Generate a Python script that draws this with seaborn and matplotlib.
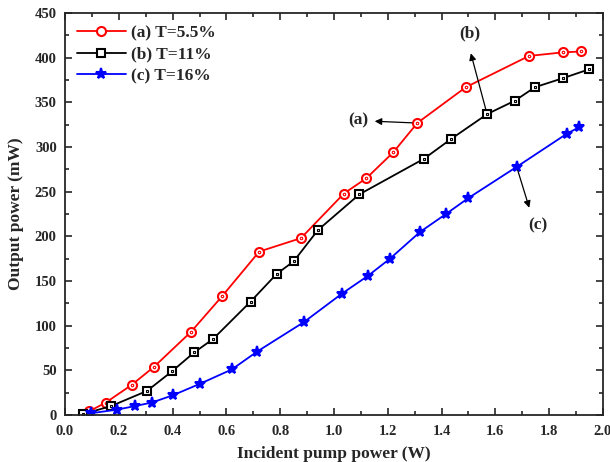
import matplotlib
matplotlib.use("Agg")
import matplotlib.pyplot as plt
import seaborn as sns
import pandas as pd
from matplotlib.ticker import MultipleLocator

red_x = [0.089, 0.152, 0.249, 0.331, 0.468, 0.584, 0.722, 0.877, 1.037, 1.12, 1.22, 1.31, 1.49, 1.725, 1.85, 1.92]
red_y = [4, 14, 34, 54, 93, 133, 183, 198, 248, 265, 294, 327, 367, 402, 406, 407]

black_x = [0.067, 0.171, 0.305, 0.398, 0.48, 0.55, 0.69, 0.787, 0.85, 0.94, 1.094, 1.335, 1.435, 1.57, 1.673, 1.747, 1.85, 1.948]
black_y = [1, 10, 27, 49, 70, 85, 127, 158, 172, 207, 247, 287, 309, 337, 352, 367, 377, 387]

blue_x = [0.097, 0.193, 0.26, 0.323, 0.40, 0.502, 0.62, 0.714, 0.888, 1.03, 1.127, 1.208, 1.32, 1.416, 1.50, 1.68, 1.866, 1.91]
blue_y = [2, 6, 10, 14, 22, 35, 51, 71, 104, 136, 156, 175, 205, 225, 243, 278, 315, 322]

labels = ["(a) T=5.5%", "(b) T=11%", "(c) T=16%"]

sns.set_theme(style="ticks")
plt.rcParams['font.family'] = ['Liberation Serif', 'DejaVu Serif']
plt.rcParams['font.weight'] = 'bold'

fig = plt.figure(figsize=(6.1, 4.62), dpi=100)
ax = fig.add_axes([0.1066, 0.1017, 0.8819, 0.8700])

series = [
    (red_x, red_y, labels[0], 'red', 'o', 6.5, 'white'),
    (black_x, black_y, labels[1], 'black', 's', 5.5, 'white'),
    (blue_x, blue_y, labels[2], 'blue', '*', 8, 'blue'),
]
for xs, ys, lab, col, mk, ms, mfc in series:
    df = pd.DataFrame({'x': xs, 'y': ys})
    sns.lineplot(data=df, x='x', y='y', ax=ax, color=col, marker=mk, markersize=ms,
                 markerfacecolor=mfc, markeredgecolor=col, markeredgewidth=1.5,
                 linewidth=1.3, sort=False, label=lab)
    if mk != '*':
        ax.plot(xs, ys, linestyle='none', marker=mk if mk == 's' else 'o',
                markersize=1.8, markerfacecolor='none', markeredgecolor=col,
                markeredgewidth=0.8)

ax.set_xlim(0, 2.0)
ax.set_ylim(0, 450)
ax.xaxis.set_major_locator(MultipleLocator(0.2))
ax.xaxis.set_minor_locator(MultipleLocator(0.1))
ax.yaxis.set_major_locator(MultipleLocator(50))
ax.yaxis.set_minor_locator(MultipleLocator(25))
ax.tick_params(which='both', direction='in', top=True, right=True, labelsize=10.5, width=1.2)
ax.tick_params(which='major', length=5)
ax.tick_params(which='minor', length=3)
ax.tick_params(axis='x', which='major', pad=7)
ax.tick_params(axis='y', which='major', pad=6)
ax.xaxis.set_major_formatter(matplotlib.ticker.FormatStrFormatter('%.1f'))
for lbl in ax.get_xticklabels() + ax.get_yticklabels():
    lbl.set_fontweight('bold')
for s in ax.spines.values():
    s.set_linewidth(1.3)

ax.set_xlabel('Incident pump power (W)', fontsize=12.5, fontweight='bold', labelpad=6)
ax.set_ylabel('Output power (mW)', fontsize=12.5, fontweight='bold', labelpad=8)

leg = ax.legend(loc='upper left', frameon=False, handlelength=2.8,
                borderaxespad=0.3, labelspacing=0.3, handletextpad=0.3,
                prop={'weight': 'bold', 'size': 12.5})

arrow = dict(arrowstyle='-|>', color='black', lw=0.9, mutation_scale=10)
ax.annotate('', xy=(1.141, 329), xytext=(1.30, 327), arrowprops=arrow)
ax.text(1.089, 330, '(a)', ha='center', va='center', fontsize=12.5, fontweight='bold')
ax.annotate('', xy=(1.506, 408), xytext=(1.568, 338), arrowprops=arrow)
ax.text(1.506, 427, '(b)', ha='center', va='center', fontsize=12.5, fontweight='bold')
ax.annotate('', xy=(1.729, 229), xytext=(1.68, 277), arrowprops=arrow)
ax.text(1.758, 212, '(c)', ha='center', va='center', fontsize=12.5, fontweight='bold')

fig.savefig('out.png', dpi=100)
